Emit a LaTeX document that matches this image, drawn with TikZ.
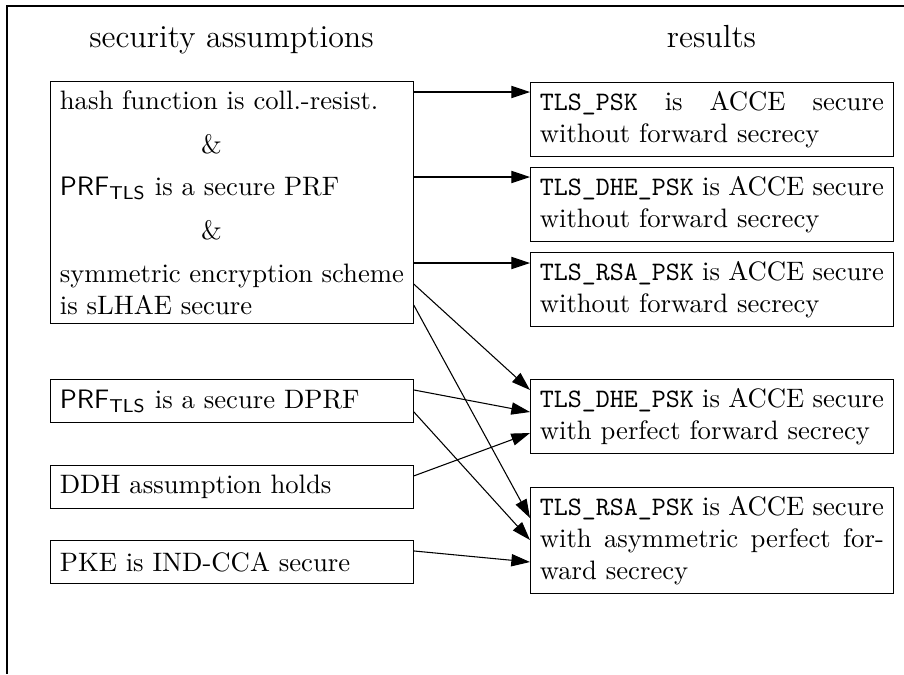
\documentclass[tikz,border=0pt]{standalone}
\usetikzlibrary{arrows.meta, calc}
\tikzstyle{box} = [rectangle, draw=black, anchor=north west,
                   text width=129pt, align=justify,
                   inner xsep=3.5pt, inner ysep=3.33pt,
                   minimum height=16pt]
\tikzstyle{heading} = [anchor=base, font=\large]
\tikzstyle{arrow} = [-{Triangle[length=7pt,width=4.6pt]}]

\begin{document}
\begin{tikzpicture}[x=0.375pt, y=-0.375pt]
    \useasboundingbox (0,0) rectangle (904,674);

    % frame
    \draw (904,6) -- (7,6) -- (7,674);

    \node (assume) [heading] at (231.5,47) {security assumptions};
    \node (results) [heading] at (711.5,47) {results};

    % assumptions
    \node (base) [box] at (50,81) {hash function is coll.-resist.\\[4.5pt]
        \hspace*{5.3em}\&\\[4pt]
        $\mathsf{PRF}_{\mathsf{TLS}}$ is a secure PRF\\[4.5pt]
        \hspace*{5.3em}\&\\[4pt]
        symmetric encryption scheme is sLHAE secure};
    \node (dprf) [box] at (50,379) {$\mathsf{PRF}_{\mathsf{TLS}}$ is a secure DPRF};
    \node (ddh) [box] at (50,465) {DDH assumption holds};
    \node (pke) [box] at (50,540) {PKE is IND-CCA secure};

    % results
    \node (psk) [box] at (530,82) {\texttt{TLS\_PSK} is ACCE secure without forward secrecy};
    \node (dhe) [box] at (530,167) {\texttt{TLS\_DHE\_PSK} is ACCE secure without forward secrecy};
    \node (rsa) [box] at (530,252) {\texttt{TLS\_RSA\_PSK} is ACCE secure without forward secrecy};
    \node (dhepfs) [box] at (530,379) {\texttt{TLS\_DHE\_PSK} is ACCE secure with perfect forward secrecy};
    \node (rsapfs) [box] at (530,487) {\texttt{TLS\_RSA\_PSK} is ACCE secure with asymmetric perfect forward secrecy};

    \coordinate (pskin) at ($(psk.north west)+(0,10)$);
    \coordinate (dhein) at ($(dhe.north west)+(0,10)$);
    \coordinate (rsain) at ($(rsa.north west)+(0,11)$);

    \draw [arrow] (base.east |- pskin) -- (pskin);
    \draw [arrow] (base.east |- dhein) -- (dhein);
    \draw [arrow] (base.east |- rsain) -- (rsain);
    \draw [arrow] ($(base.north east)+(0,203)$) -- ($(dhepfs.north west)+(0,11)$);
    \draw [arrow] ($(base.north east)+(0,224)$) -- ($(rsapfs.north west)+(0,31)$);
    \draw [arrow] ($(dprf.north east)!0.25!(dprf.south east)$) -- ($(dhepfs.north west)+(0,33)$);
    \draw [arrow] ($(dprf.north east)!0.75!(dprf.south east)$) -- ($(rsapfs.north west)+(0,53)$);
    \draw [arrow] ($(ddh.north east)!0.25!(ddh.south east)$) -- ($(dhepfs.north west)+(0,54)$);
    \draw [arrow] ($(pke.north east)!0.25!(pke.south east)$) -- ($(rsapfs.north west)+(0,75)$);

\end{tikzpicture}
\end{document}
